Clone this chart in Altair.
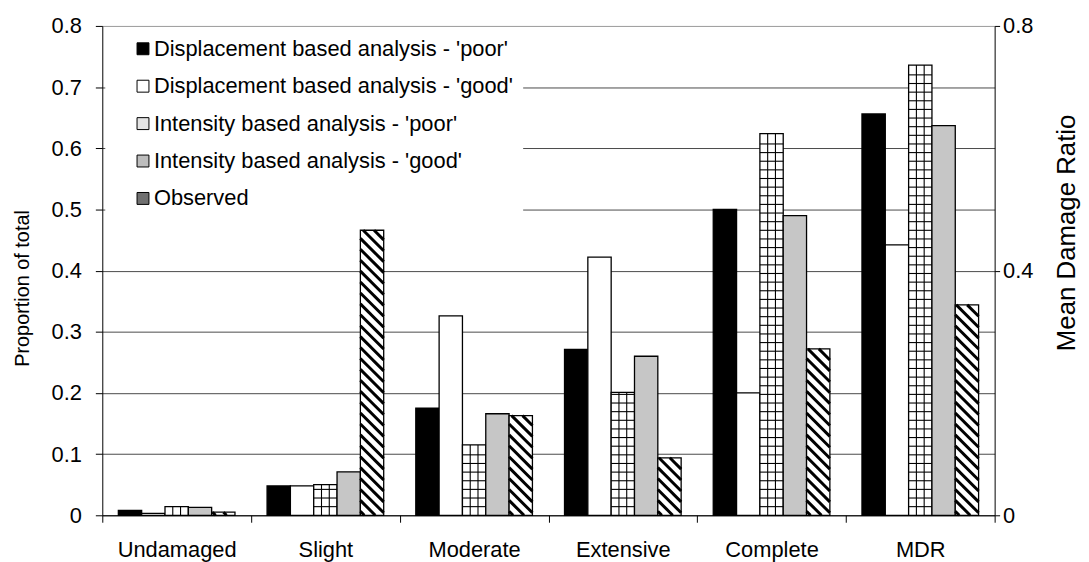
import json
import altair as alt
import pandas as pd

# ---------------- data ----------------
categories = ["Undamaged", "Slight", "Moderate", "Extensive", "Complete", "MDR"]
series = [
    "Displacement based analysis - 'poor'",
    "Displacement based analysis - 'good'",
    "Intensity based analysis - 'poor'",
    "Intensity based analysis - 'good'",
    "Observed",
]
disp_poor = [0.008, 0.048, 0.175, 0.271, 0.500, 0.656]
disp_good = [0.003, 0.048, 0.326, 0.422, 0.200, 0.442]
int_poor = [0.014, 0.050, 0.115, 0.201, 0.624, 0.736]
int_good = [0.013, 0.071, 0.166, 0.260, 0.490, 0.637]
observed = [0.005, 0.466, 0.163, 0.094, 0.272, 0.344]
values = [disp_poor, disp_good, int_poor, int_good, observed]

left_ticks = [0, 0.1, 0.2, 0.3, 0.4, 0.5, 0.6, 0.7, 0.8]
right_ticks = [0, 0.4, 0.8]

# ---------------- styling ----------------
FONT = "Liberation Sans"
bar_fills = ["#000000", "#ffffff", "#ffffff", "#c6c6c6", "#ffffff"]
legend_fills = ["#000000", "#ffffff", "#e4e4e4", "#bdbdbd", "#707070"]

W_PX, H_PX = 899, 493
YMAX = 0.8
px_x = W_PX / len(categories)
px_y = H_PX / YMAX
BAR_PX = 23.5
bw = BAR_PX / px_x

# ---------------- tables built from the arrays ----------------
rows = []
for s, name in enumerate(series):
    for g, cat in enumerate(categories):
        c = g + 0.5 + (s - 2) * bw
        rows.append(dict(series=name, cat=cat, x=c - bw / 2, x2=c + bw / 2,
                         v=values[s][g], order=s))
bars = pd.DataFrame(rows)

# crosshatch pattern for "Intensity - poor"
grid_rows = []
step = 8.7 / px_y
for g, v in enumerate(int_poor):
    left = g + 0.5 - bw / 2
    k = 1
    while k * step < v - 0.003:
        grid_rows.append(dict(x=left, x2=left + bw, y=k * step, y2=k * step))
        k += 1
    for f in (1 / 3, 2 / 3):
        grid_rows.append(dict(x=left + f * bw, x2=left + f * bw, y=0.0, y2=v))
grid_df = pd.DataFrame(grid_rows)

# diagonal hatch for "Observed"
hatch_rows = []
for g, v in enumerate(observed):
    left = g + 0.5 + 2 * bw - bw / 2
    H = v * px_y
    c = 4.0
    while c < H + BAR_PX:
        t0 = max(0.0, c - H)
        t1 = min(BAR_PX, c)
        if t1 - t0 > 1.0:
            hatch_rows.append(dict(x=left + t0 / px_x, x2=left + t1 / px_x,
                                   y=(c - t0) / px_y, y2=(c - t1) / px_y))
        c += 11.0
hatch_df = pd.DataFrame(hatch_rows)

# ---------------- scales / axes ----------------
xscale = alt.Scale(domain=[0, len(categories)], nice=False, zero=False)
yscale = alt.Scale(domain=[0, YMAX], nice=False, zero=True)

label_expr = ("(datum.value % 1) > 0.25 ? " + json.dumps(categories)
              + "[floor(datum.value)] : ''")
x_axis = alt.Axis(
    values=[i * 0.5 for i in range(2 * len(categories) + 1)],
    labelExpr=label_expr, title=None, grid=False,
    domainColor="black", tickColor="black", tickSize=7,
    tickOpacity={"condition": {"test": "(datum.value % 1) < 0.25", "value": 1}, "value": 0},
    labelFont=FONT, labelFontSize=22, labelColor="black", labelPadding=18,
    labelAngle=0, labelFlush=False, labelOverlap=False, labelBound=False,
)

num_expr = "datum.value == 0 ? '0' : format(datum.value, '.1f')"
left_axis = alt.Axis(
    values=left_ticks, labelExpr=num_expr, title="Proportion of total",
    grid=True, gridWidth=1,
    gridColor={"condition": {"test": "datum.value > 0.75", "value": "#9a9a9a"}, "value": "#4a4a4a"},
    domainColor="black", tickColor="black", tickSize=7,
    labelFont=FONT, labelFontSize=22, labelColor="black", labelPadding=14,
    titleFont=FONT, titleFontSize=20, titleFontWeight="normal", titleColor="black",
    titleAngle=270, titleX=-80, titleY=264, titleBaseline="middle", titleAlign="center",
)
right_axis = alt.Axis(
    orient="right", values=right_ticks, labelExpr=num_expr, title="Mean Damage Ratio",
    grid=False, domainColor="black", tickColor="black", tickSize=5,
    labelFont=FONT, labelFontSize=22, labelColor="black", labelPadding=3,
    titleFont=FONT, titleFontSize=26, titleFontWeight="normal", titleColor="black",
    titleAngle=270, titleX=80, titleY=208, titleBaseline="alphabetic", titleAlign="center",
)

# ---------------- layers ----------------
bar_layer = alt.Chart(bars).mark_bar(stroke="black", strokeWidth=1.3).encode(
    x=alt.X("x:Q", scale=xscale, axis=x_axis),
    x2="x2:Q",
    y=alt.Y("v:Q", scale=yscale, axis=left_axis),
    y2=alt.datum(0),
    fill=alt.Fill("series:N", scale=alt.Scale(domain=series, range=bar_fills), legend=None),
)

grid_layer = alt.Chart(grid_df).mark_rule(color="black", strokeWidth=1.1).encode(
    x=alt.X("x:Q", scale=xscale, axis=x_axis),
    x2="x2:Q",
    y=alt.Y("y:Q", scale=yscale, axis=None),
    y2="y2:Q",
)

hatch_layer = alt.Chart(hatch_df).mark_rule(color="black", strokeWidth=3.0).encode(
    x=alt.X("x:Q", scale=xscale, axis=x_axis),
    x2="x2:Q",
    y=alt.Y("y:Q", scale=yscale, axis=None),
    y2="y2:Q",
)

legend_layer = alt.Chart(bars).mark_bar(opacity=0, stroke="black").encode(
    x=alt.X("x:Q", scale=xscale, axis=x_axis),
    x2="x2:Q",
    y=alt.Y("v:Q", scale=yscale, axis=right_axis),
    y2=alt.datum(0),
    fill=alt.Fill(
        "series:N",
        scale=alt.Scale(domain=series, range=legend_fills),
        legend=alt.Legend(
            title=None, orient="none", legendX=3, legendY=2,
            fillColor="white", padding=10, symbolType="square", symbolSize=144,
            symbolStrokeColor="black", symbolStrokeWidth=1, symbolOpacity=1,
            symbolOffset=17, labelFont=FONT, labelFontSize=22, labelColor="black",
            labelLimit=600, labelOffset=0, rowPadding=15.7,
        ),
    ),
)

chart = (
    alt.layer(bar_layer, grid_layer, hatch_layer, legend_layer)
    .resolve_scale(y="independent", fill="independent")
    .properties(
        width=W_PX, height=H_PX,
        autosize=alt.AutoSizeParams(type="none"),
        padding={"left": 95, "top": 16, "right": 87, "bottom": 46},
        background="white",
    )
    .configure_view(stroke=None)
)

chart.save("out.html", embed_options={"renderer": "svg", "actions": False})
